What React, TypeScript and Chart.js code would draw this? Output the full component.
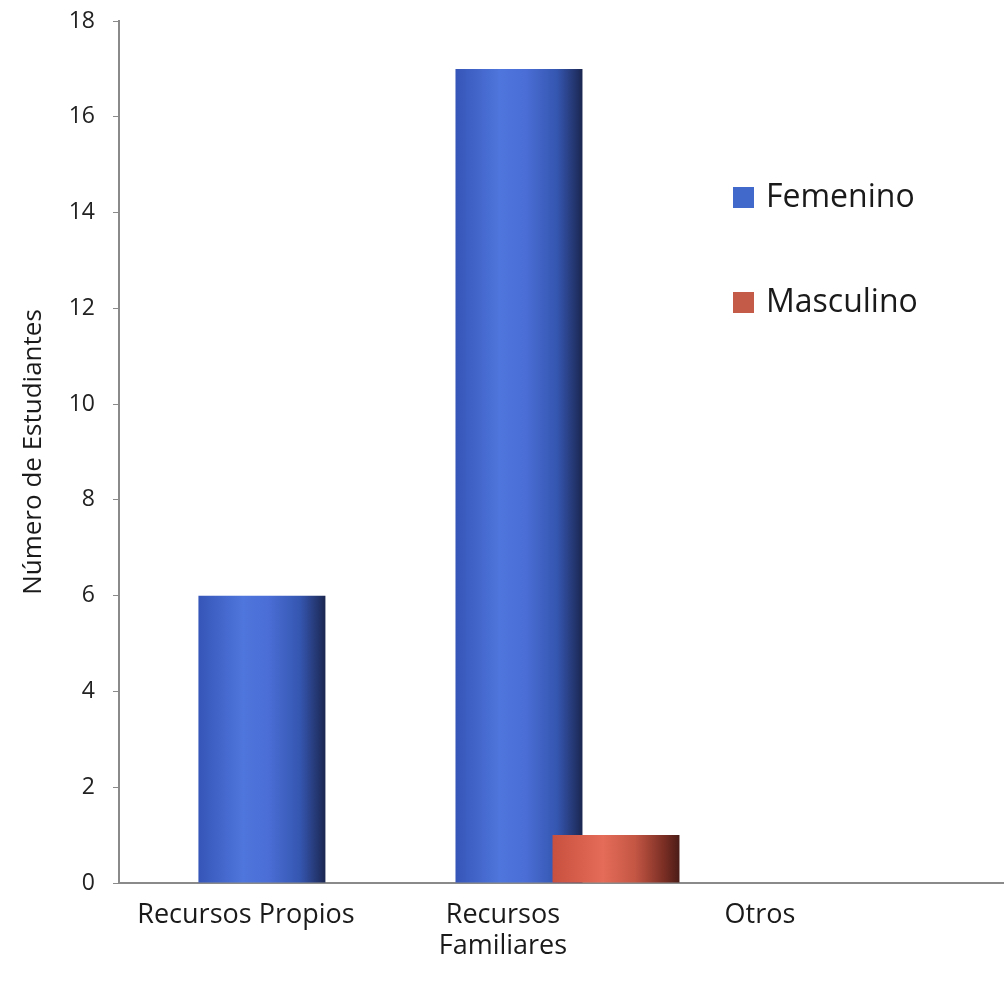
import React, { useEffect, useRef } from "react";
import { Chart, registerables } from "chart.js";

Chart.register(...registerables);

const categories: string[][] = [["Recursos Propios"], ["Recursos", "Familiares"], ["Otros"]];
const femenino: number[] = [6, 17, 0];
const masculino: number[] = [0, 1, 0];
const seriesNames: string[] = ["Femenino", "Masculino"];
const yTicks = { min: 0, max: 18, step: 2 };

const FONT = "'Open Sans', 'Noto Sans', sans-serif";
const BAR_PCT = 0.494;

function gradFor(ctx: any, axisId: string, stops: [number, string][]) {
  const chart = ctx.chart;
  const scale = chart.scales && chart.scales[axisId];
  if (!scale || !ctx.parsed || ctx.type !== "data") return stops[1][1];
  const cx = scale.getPixelForValue(ctx.parsed.x);
  const w = (scale.getPixelForValue(1) - scale.getPixelForValue(0)) * BAR_PCT;
  if (!isFinite(cx) || !isFinite(w) || w <= 0) return stops[1][1];
  const g = chart.ctx.createLinearGradient(cx - w / 2, 0, cx + w / 2, 0);
  stops.forEach(([o, c]) => g.addColorStop(o, c));
  return g;
}

const blueStops: [number, string][] = [
  [0, "#3655b8"],
  [0.35, "#4f76dc"],
  [0.55, "#4a6ed6"],
  [0.8, "#3556b0"],
  [0.95, "#22336a"],
  [1, "#1a2650"],
];
const redStops: [number, string][] = [
  [0, "#c8503e"],
  [0.4, "#e46c58"],
  [0.65, "#c45644"],
  [0.88, "#7a2e24"],
  [1, "#4a1c16"],
];

const legendPlugin = {
  id: "customLegend",
  afterDraw(chart: any) {
    const c = chart.ctx;
    const items = [
      { label: seriesNames[0], color: "#4169cc", y: 197 },
      { label: seriesNames[1], color: "#c45a48", y: 302 },
    ];
    c.save();
    items.forEach((it) => {
      c.fillStyle = it.color;
      c.fillRect(733, it.y - 10, 21, 21);
      c.fillStyle = "#1a1a1a";
      c.font = `32px ${FONT}`;
      c.textBaseline = "middle";
      c.textAlign = "left";
      c.fillText(it.label, 766, it.y + 1);
    });
    c.restore();
  },
};

const hiddenX = (min: number, max: number) => ({
  type: "linear",
  display: false,
  offset: false,
  min,
  max,
  ticks: { stepSize: 1, includeBounds: false },
});

export default function App() {
  const ref = useRef<HTMLCanvasElement | null>(null);

  useEffect(() => {
    if (!ref.current) return;
    const chart = new Chart(ref.current, {
      type: "bar",
      data: {
        datasets: [
          {
            label: seriesNames[0],
            data: femenino.map((v, i) => ({ x: i, y: v })),
            xAxisID: "xf",
            order: 1,
            grouped: false,
            categoryPercentage: 1,
            barPercentage: BAR_PCT,
            backgroundColor: (ctx: any) => gradFor(ctx, "xf", blueStops),
            borderWidth: 0,
          },
          {
            label: seriesNames[1],
            data: masculino.map((v, i) => ({ x: i, y: v })),
            xAxisID: "xm",
            order: 0,
            grouped: false,
            categoryPercentage: 1,
            barPercentage: BAR_PCT,
            backgroundColor: (ctx: any) => gradFor(ctx, "xm", redStops),
            borderWidth: 0,
          },
        ],
      },
      options: {
        animation: false,
        responsive: false,
        maintainAspectRatio: false,
        layout: { padding: { top: 21, right: 2, left: 0, bottom: 0 } },
        plugins: { legend: { display: false }, tooltip: { enabled: false } },
        scales: {
          x: {
            type: "linear",
            position: "bottom",
            offset: false,
            min: -0.494,
            max: 2.946,
            afterFit: (s: any) => {
              s.height = 106;
            },
            grid: { display: false, offset: false },
            border: { display: true, color: "#8a8a8a", width: 2 },
            ticks: {
              stepSize: 1,
              includeBounds: false,
              padding: 8,
              color: "#1a1a1a",
              font: { family: FONT, size: 27, lineHeight: 1.18 },
              maxRotation: 0,
              autoSkip: false,
              callback: (v: any) => {
                const i = Number(v);
                return Number.isInteger(i) && categories[i] ? categories[i] : "";
              },
            },
          },
          xf: hiddenX(-0.556, 2.883),
          xm: hiddenX(-0.934, 2.506),
          y: {
            min: yTicks.min,
            max: yTicks.max,
            afterFit: (s: any) => {
              s.width = 119;
              s.paddingTop = 0;
              s.paddingBottom = 0;
            },
            grid: {
              drawOnChartArea: false,
              drawTicks: true,
              tickLength: 6,
              color: "#8a8a8a",
            },
            border: { display: true, color: "#8a8a8a", width: 2 },
            ticks: {
              stepSize: yTicks.step,
              padding: 18,
              color: "#222222",
              font: { family: FONT, size: 23 },
            },
            title: {
              display: true,
              text: "Número de Estudiantes",
              color: "#1a1a1a",
              font: { family: FONT, size: 26 },
              padding: { top: 18, bottom: 0 },
            },
          },
        },
      },
      plugins: [legendPlugin],
    } as any);
    return () => chart.destroy();
  }, []);

  return (
    <div style={{ position: "absolute", left: 0, top: 0, width: 1005, height: 989, background: "#fff" }}>
      <canvas ref={ref} width={1005} height={989} style={{ width: 1005, height: 989 }} />
    </div>
  );
}
